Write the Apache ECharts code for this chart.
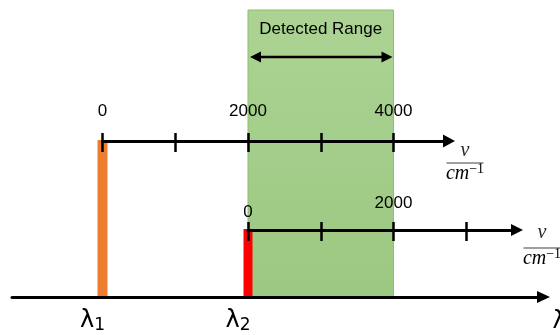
<!DOCTYPE html>
<html>
<head>
<meta charset="utf-8">
<script src="https://cdn.jsdelivr.net/npm/echarts@6/dist/echarts.min.js"></script>
<style>
  html, body { margin: 0; padding: 0; background: #fff; }
  #chart { width: 560px; height: 335px; }
</style>
</head>
<body>
<div id="chart"></div>
<script>
// 数据（上轴波数单位）
const topTicks = [0, 1000, 2000, 3000, 4000];
const topLabels = [0, 2000, 4000];
const lowTicks = [0, 1000, 2000, 3000];
const lowLabels = [0, 2000];
const lambdaPos = [0, 2000];
const lambdaNames = ['1', '2'];
const detectedRange = [2000, 4000];

// 布局
const K = 0.07275;      // 每单位像素
const ORIGIN = 102.5;   // 上轴 0 的像素位置
const TOP_Y = 140, LOW_Y = 229, BASE_Y = 297, RANGE_TOP = 10, ARROW_Y = 57;
const px = v => ORIGIN + K * v;
const toV = x => (x - ORIGIN) / K;
const shift = lambdaPos[1];   // 下轴的 0 对应 λ2

const FONT = "'Liberation Sans', Arial, sans-serif";
const SERIF = "'Liberation Serif', 'DejaVu Serif', serif";

const chart = echarts.init(document.getElementById('chart'));

function fraction(cx, vy, lineY, halfW, cmY) {
  return {
    type: 'group',
    children: [
      { type: 'text', x: cx, y: vy, style: { text: 'v', font: 'italic 20px ' + SERIF, fill: '#262626', align: 'center', verticalAlign: 'middle' } },
      { type: 'line', shape: { x1: cx - halfW, y1: lineY, x2: cx + halfW, y2: lineY }, style: { stroke: '#7f7f7f', lineWidth: 1.5 } },
      { type: 'text', x: cx, y: cmY, style: {
          text: '{c|cm}{s|−1}', align: 'center', verticalAlign: 'middle',
          rich: {
            c: { fontSize: 20, fontStyle: 'italic', fontFamily: SERIF, color: '#262626' },
            s: { fontSize: 14, fontFamily: SERIF, color: '#262626', padding: [0, 0, 10, 0] }
          }
      } }
    ]
  };
}

const tickLine = { lineStyle: { color: '#000', width: 2.5 } };

const option = {
  animation: false,
  grid: [
    { left: 0, top: RANGE_TOP, width: 560, height: BASE_Y - RANGE_TOP, outerBoundsMode: 'none' },
    { left: px(0), top: TOP_Y, width: 449 - px(0), height: 1, outerBoundsMode: 'none' },
    { left: px(shift), top: LOW_Y, width: 517 - px(shift), height: 1, outerBoundsMode: 'none' },
    { left: 12, top: BASE_Y - 1, width: 543.5 - 12, height: 1, outerBoundsMode: 'none' }
  ],
  xAxis: [
    { gridIndex: 0, type: 'value', show: false, min: toV(0), max: toV(560) },
    {
      gridIndex: 1, type: 'value', position: 'top', min: 0, max: toV(449), z: 10,
      axisLine: { lineStyle: { color: '#000', width: 3 }, symbol: ['none', 'triangle'], symbolSize: [13, 12] },
      axisTick: { length: 8, customValues: topTicks, ...tickLine },
      axisLabel: { customValues: topLabels, margin: 20, color: '#000', fontSize: 17, fontFamily: FONT, formatter: v => String(v) },
      splitLine: { show: false }
    },
    {
      gridIndex: 1, type: 'value', position: 'top', min: 0, max: toV(449), z: 10,
      axisLine: { show: false }, axisLabel: { show: false }, splitLine: { show: false },
      axisTick: { inside: true, length: 12, customValues: topTicks, ...tickLine }
    },
    {
      gridIndex: 2, type: 'value', position: 'top', min: 0, max: (517 - px(shift)) / K, z: 10,
      axisLine: { lineStyle: { color: '#000', width: 3 }, symbol: ['none', 'triangle'], symbolSize: [12, 12] },
      axisTick: { length: 8, customValues: lowTicks, ...tickLine },
      axisLabel: {
        customValues: lowLabels, margin: 8, fontFamily: FONT,
        formatter: v => v === 0 ? '{z|0}' : '{t|' + v + '}',
        rich: {
          z: { color: '#000', fontSize: 17, fontFamily: FONT },
          t: { color: '#000', fontSize: 17, fontFamily: FONT, padding: [0, 0, 9, 0] }
        }
      },
      splitLine: { show: false }
    },
    {
      gridIndex: 2, type: 'value', position: 'top', min: 0, max: (517 - px(shift)) / K, z: 10,
      axisLine: { show: false }, axisLabel: { show: false }, splitLine: { show: false },
      axisTick: { inside: true, length: 12, customValues: lowTicks, ...tickLine }
    },
    {
      gridIndex: 3, type: 'value', position: 'bottom', min: toV(12), max: toV(543.5), z: 10,
      name: 'λ', nameLocation: 'end', nameGap: 9,
      nameTextStyle: { fontSize: 24, fontFamily: "'DejaVu Sans', sans-serif", color: '#000', align: 'left', verticalAlign: 'top', padding: [13, 0, 0, 0] },
      axisLine: { lineStyle: { color: '#000', width: 3 }, symbol: ['none', 'triangle'], symbolSize: [12, 13] },
      axisTick: { show: false },
      splitLine: { show: false },
      axisLabel: {
        customValues: lambdaPos, margin: 10, padding: [0, 20, 0, 0],
        formatter: v => '{l|λ}{s|' + lambdaNames[lambdaPos.indexOf(v)] + '}',
        rich: {
          l: { fontSize: 24, fontFamily: "'DejaVu Sans', sans-serif", color: '#000' },
          s: { fontSize: 17, fontFamily: "'DejaVu Sans', sans-serif", color: '#000', padding: [10, 0, 0, 0] }
        }
      }
    }
  ],
  yAxis: [0, 1, 2, 3].map(i => ({ gridIndex: i, type: 'value', show: false, min: 0, max: 1 })),
  graphic: [
    fraction(465, 151, 163, 18.5, 174),
    fraction(542, 233, 248, 18.5, 259)
  ],
  series: [
    {
      // 检测范围
      type: 'line', xAxisIndex: 0, yAxisIndex: 0, data: [], z: 1,
      markArea: {
        silent: true,
        itemStyle: {
          color: new echarts.graphic.LinearGradient(0, 0, 0, 1, [
            { offset: 0, color: '#acd393' },
            { offset: 1, color: '#9bc881' }
          ]),
          borderColor: '#8cc06b', borderWidth: 1
        },
        label: { show: true, position: 'insideTop', distance: 11, color: '#000', fontSize: 17, fontFamily: FONT },
        data: [[{ name: 'Detected Range', xAxis: detectedRange[0] }, { xAxis: detectedRange[1] }]]
      }
    },
    {
      // 双向箭头
      type: 'custom', xAxisIndex: 0, yAxisIndex: 0, z: 4,
      encode: { x: [0, 1] },
      data: [detectedRange],
      renderItem: (params, api) => {
        const x1 = api.coord([api.value(0), 0])[0];
        const x2 = api.coord([api.value(1), 0])[0];
        const y = ARROW_Y, h = 11, w = 5.5;
        return {
          type: 'group',
          children: [
            { type: 'line', shape: { x1: x1 + 6, y1: y, x2: x2 - 6, y2: y }, style: { stroke: '#000', lineWidth: 2.5 } },
            { type: 'polygon', shape: { points: [[x1 + 2, y], [x1 + 2 + h, y - w], [x1 + 2 + h, y + w]] }, style: { fill: '#000' } },
            { type: 'polygon', shape: { points: [[x2 - 1, y], [x2 - 1 - h, y - w], [x2 - 1 - h, y + w]] }, style: { fill: '#000' } }
          ]
        };
      }
    },
    {
      // λ1 / λ2 竖条
      type: 'custom', xAxisIndex: 0, yAxisIndex: 0, z: 3,
      encode: { x: 0, y: 1 },
      data: lambdaPos.map((v, i) => [v, i]),
      renderItem: (params, api) => {
        const i = api.value(1);
        const x = api.coord([api.value(0), 0])[0];
        const top = i === 0 ? TOP_Y : LOW_Y;
        const w = i === 0 ? 10 : 9;
        return {
          type: 'rect',
          shape: { x: x - w / 2, y: top, width: w, height: BASE_Y - top },
          style: { fill: i === 0 ? '#ed7d31' : '#ff0000' }
        };
      }
    }
  ]
};

chart.setOption(option);
</script>
</body>
</html>
